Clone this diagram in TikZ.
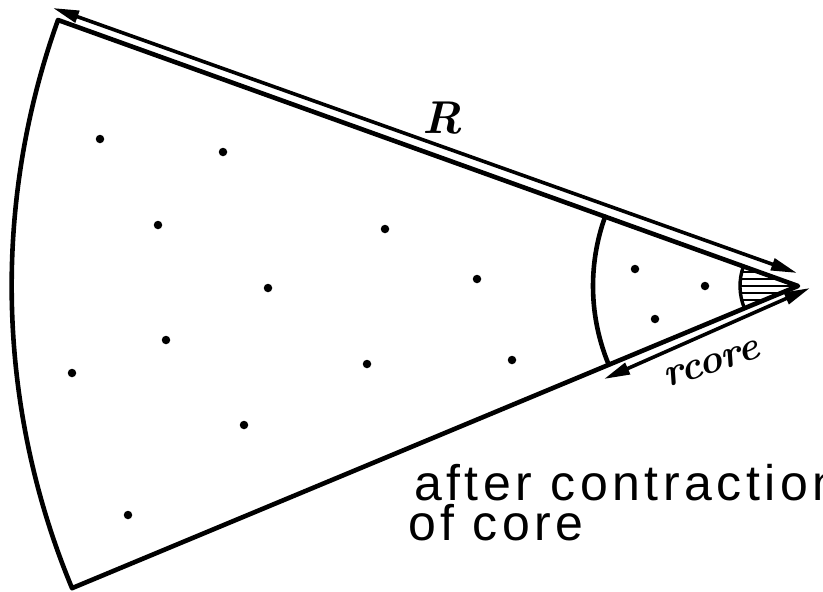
\documentclass[tikz,border=0pt]{standalone}
\usepackage{fontspec}
\newfontfamily\handfont[LetterSpace=9]{Liberation Sans}
\usetikzlibrary{arrows.meta}
\begin{document}
\begin{tikzpicture}[x=1pt,y=1pt,
  edge/.style={line width=4.6pt, line join=round, line cap=round},
  dimarrow/.style={line width=3.6pt,
    {Triangle[length=26pt,width=12pt]}-{Triangle[length=26pt,width=12pt]}},
  dot/.style={circle, fill=black, inner sep=0pt, minimum size=8.5pt},
  lbl/.style={inner sep=0pt}]
\useasboundingbox (0,0) rectangle (823,-592);
\clip (0,0) rectangle (823,-592);
% apex and corners
\coordinate (A) at (798,-286);
\coordinate (T) at (58,-20);
% outer sector
\draw[edge] (T) arc[start angle=160.23,end angle=202.6,radius=786.4] coordinate (B) -- (A) -- cycle;
% inner (core) arc
\coordinate (I1) at ([shift={(160.23:205)}]A);
\draw[edge] (I1) arc[start angle=160.23,end angle=202.6,radius=205];
% hatched angle at the apex
\coordinate (H1) at ([shift={(160.23:58)}]A);
\begin{scope}
  \clip (A) -- (H1) arc[start angle=160.23,end angle=202.6,radius=58] -- cycle;
  \foreach \k in {-21,-14,...,21}
    \draw[line width=2.6pt] (730,-286+\k) -- (805,-286+\k);
\end{scope}
\draw[line width=3.4pt] (H1) arc[start angle=160.23,end angle=202.6,radius=58];
% R arrow
\coordinate (R1) at (53,-8);
\coordinate (R2) at (797,-273);
\draw[dimarrow] (R1) -- (R2);
% r_core arrow
\coordinate (C1) at (604,-379);
\coordinate (C2) at (810,-288);
\draw[dimarrow] (C1) -- (C2);
% labels
\node[lbl] (labR) at (442,-118) {\fontsize{46}{46}\selectfont\bfseries\itshape R};
\node[lbl, rotate=18] (labr) at (712,-364) {\fontsize{40}{40}\selectfont\bfseries\itshape rcore};
\node[lbl, anchor=base west] (ann1) at (414,-500) {\fontsize{50}{50}\selectfont\handfont after contraction};
\node[lbl, anchor=base west] (ann2) at (408,-540) {\fontsize{50}{50}\selectfont\handfont of core};
% dots
\foreach \p [count=\i] in {(100,-139),(223,-152),(158,-225),(385,-229),(268,-288),(477,-279),
  (367,-364),(512,-360),(166,-340),(72,-373),(244,-425),(128,-515),(635,-269),(705,-286),(655,-319)}
  \node[dot] (d\i) at \p {};
\end{tikzpicture}
\end{document}
